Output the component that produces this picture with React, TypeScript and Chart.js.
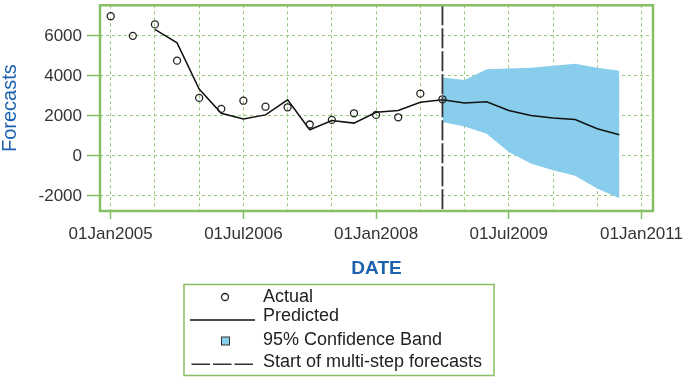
import React, { useEffect, useRef } from 'react';
import { Chart, registerables } from 'chart.js';

Chart.register(...registerables);

// Months counted from 01Jan2005 (0 = Jan 2005), quarterly observations
const actualMonths = [0, 3, 6, 9, 12, 15, 18, 21, 24, 27, 30, 33, 36, 39, 42, 45];
const actualValues = [6980, 6000, 6570, 4760, 2900, 2350, 2760, 2460, 2430, 1570, 1800, 2130, 2050, 1930, 3110, 2830];

const predictedMonths = [6, 9, 12, 15, 18, 21, 24, 27, 30, 33, 36, 39, 42, 45, 48, 51, 54, 57, 60, 63, 66, 69];
const predictedValues = [6320, 5650, 3340, 2130, 1850, 2050, 2800, 1310, 1770, 1640, 2180, 2270, 2680, 2810, 2650, 2710, 2270, 2020, 1900, 1820, 1360, 1060];

const bandMonths = [45, 48, 51, 54, 57, 60, 63, 66, 69];
const bandUpper = [3920, 3790, 4335, 4365, 4410, 4500, 4610, 4410, 4250];
const bandLower = [1690, 1470, 1110, 200, -380, -710, -990, -1620, -2110];

const forecastStartMonth = 45;

const xGridMonths = [0, 6, 12, 18, 24, 30, 36, 42, 48, 54, 60, 66, 72];
const xLabelMonths = [0, 18, 36, 54, 72];
const xTickLabels = ['01Jan2005', '01Jul2006', '01Jan2008', '01Jul2009', '01Jan2011'];
const yTicks = [-2000, 0, 2000, 4000, 6000];

const legendLabels = ['Actual', 'Predicted', '95% Confidence Band', 'Start of multi-step forecasts'];

const GREEN = '#86bf64';
const GRID_GREEN = '#96c97e';
const BAND = '#88cdeb';
const BLUE = '#1d62ae';
const FONT = "'Liberation Sans', Arial, sans-serif";

const toXY = (xs: number[], ys: number[]) => xs.map((x, i) => ({ x, y: ys[i] }));

export default function App() {
  const canvasRef = useRef<HTMLCanvasElement | null>(null);

  useEffect(() => {
    if (!canvasRef.current) return;

    const overlay = {
      id: 'overlay',
      afterDatasetsDraw(chart: any) {
        const { ctx, chartArea } = chart;
        const xs = chart.scales.x;
        const px = xs.getPixelForValue(forecastStartMonth);
        ctx.save();
        ctx.strokeStyle = '#333';
        ctx.lineWidth = 1.8;
        ctx.setLineDash([20, 3]);
        ctx.beginPath();
        ctx.moveTo(px, chartArea.top);
        ctx.lineTo(px, chartArea.bottom);
        ctx.stroke();
        ctx.restore();
      },
      afterDraw(chart: any) {
        const { ctx, chartArea } = chart;
        ctx.save();
        // frame
        ctx.strokeStyle = GREEN;
        ctx.lineWidth = 2.5;
        ctx.setLineDash([]);
        ctx.strokeRect(chartArea.left, chartArea.top, chartArea.right - chartArea.left, chartArea.bottom - chartArea.top);

        // legend box
        ctx.lineWidth = 1.5;
        ctx.strokeStyle = GREEN;
        ctx.strokeRect(184, 284.5, 310, 91);

        const rows = [297, 316.5, 340, 362.5];
        ctx.font = `18px ${FONT}`;
        ctx.fillStyle = '#222';
        ctx.textBaseline = 'middle';
        ctx.textAlign = 'left';
        legendLabels.forEach((t, i) => ctx.fillText(t, 263, rows[i]));

        // Actual marker
        ctx.strokeStyle = '#222';
        ctx.lineWidth = 1.3;
        ctx.beginPath();
        ctx.arc(225, 297, 3.5, 0, Math.PI * 2);
        ctx.stroke();

        // Predicted line
        ctx.strokeStyle = '#111';
        ctx.lineWidth = 1.5;
        ctx.beginPath();
        ctx.moveTo(190, 320);
        ctx.lineTo(255, 320);
        ctx.stroke();

        // Band square
        ctx.fillStyle = BAND;
        ctx.fillRect(221.5, 337, 8, 8);
        ctx.strokeStyle = '#333';
        ctx.lineWidth = 1;
        ctx.strokeRect(221.5, 337, 8, 8);

        // dashed line
        ctx.strokeStyle = '#333';
        ctx.lineWidth = 1.5;
        ctx.setLineDash([18.5, 3]);
        ctx.beginPath();
        ctx.moveTo(191.5, 364.3);
        ctx.lineTo(253.5, 364.3);
        ctx.stroke();
        ctx.restore();
      },
    };

    const chart = new Chart(canvasRef.current, {
      type: 'line',
      data: {
        datasets: [
          {
            label: 'Actual',
            data: toXY(actualMonths, actualValues),
            showLine: false,
            pointRadius: 3.5,
            pointStyle: 'circle',
            pointBorderColor: '#222',
            pointBorderWidth: 1.3,
            pointBackgroundColor: 'rgba(0,0,0,0)',
            borderColor: '#222',
            fill: false,
          },
          {
            label: 'Predicted',
            data: toXY(predictedMonths, predictedValues),
            borderColor: '#111',
            borderWidth: 1.5,
            pointRadius: 0,
            tension: 0,
            fill: false,
          },
          {
            label: 'Upper',
            data: toXY(bandMonths, bandUpper),
            borderWidth: 0,
            borderColor: 'rgba(0,0,0,0)',
            backgroundColor: BAND,
            pointRadius: 0,
            fill: '+1',
          },
          {
            label: 'Lower',
            data: toXY(bandMonths, bandLower),
            borderWidth: 0,
            borderColor: 'rgba(0,0,0,0)',
            backgroundColor: BAND,
            pointRadius: 0,
            fill: false,
          },
        ],
      },
      options: {
        responsive: false,
        animation: false,
        layout: { padding: { left: 0, top: 4, right: 33, bottom: 100 } },
        plugins: {
          legend: { display: false },
          tooltip: { enabled: false },
        },
        scales: {
          x: {
            type: 'linear',
            min: -1.45,
            max: 73.56,
            afterBuildTicks: (scale: any) => {
              scale.ticks = xGridMonths.map((v) => ({ value: v }));
            },
            afterFit: (scale: any) => {
              scale.height = 70;
              scale.paddingLeft = 0;
              scale.paddingRight = 0;
            },
            ticks: {
              autoSkip: false,
              maxRotation: 0,
              minRotation: 0,
              padding: 5,
              color: '#333',
              font: { family: FONT, size: 17 },
              callback: (value: any) => {
                const i = xLabelMonths.indexOf(Number(value));
                return i >= 0 ? xTickLabels[i] : '';
              },
            },
            grid: {
              color: GRID_GREEN,
              lineWidth: 1,
              tickLength: 8,
              tickWidth: 1.5,
              tickColor: (ctx: any) =>
                ctx.tick && xLabelMonths.indexOf(ctx.tick.value) >= 0 ? GREEN : 'rgba(0,0,0,0)',
            },
            border: { display: false, dash: [3, 3] },
            title: {
              display: true,
              text: 'DATE',
              color: BLUE,
              font: { family: FONT, size: 19, weight: 'bold', lineHeight: 1.2 },
              padding: { top: 0, bottom: 1 },
            },
          },
          y: {
            type: 'linear',
            min: -2750,
            max: 7525,
            afterBuildTicks: (scale: any) => {
              scale.ticks = yTicks.map((v) => ({ value: v }));
            },
            afterFit: (scale: any) => {
              scale.width = 100;
              scale.paddingTop = 0;
              scale.paddingBottom = 0;
            },
            ticks: {
              padding: 5,
              color: '#333',
              font: { family: FONT, size: 17 },
              callback: (value: any) => String(value),
            },
            grid: {
              color: GRID_GREEN,
              lineWidth: 1,
              tickLength: 13,
              tickWidth: 1.5,
              tickColor: GREEN,
            },
            border: { display: false, dash: [3, 3] },
            title: {
              display: true,
              text: 'Forecasts',
              color: BLUE,
              font: { family: FONT, size: 20, lineHeight: 1 },
              padding: 0,
            },
          },
        },
      },
      plugins: [overlay],
    } as any);

    return () => chart.destroy();
  }, []);

  return (
    <div style={{ position: 'fixed', left: 0, top: 0, width: 686, height: 381, background: '#fff' }}>
      <canvas ref={canvasRef} width={686} height={381} style={{ display: 'block' }} />
    </div>
  );
}
